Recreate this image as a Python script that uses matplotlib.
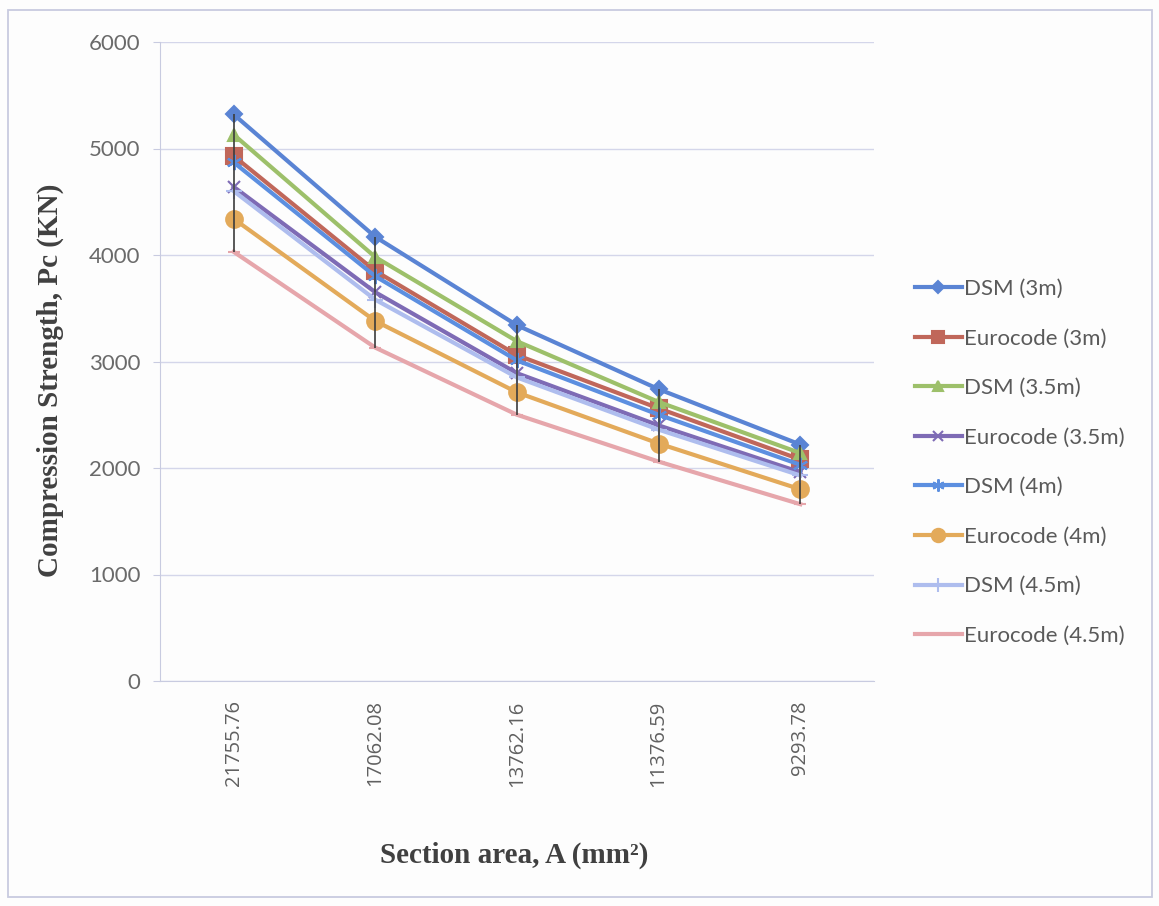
import matplotlib
matplotlib.use("Agg")
import matplotlib.pyplot as plt
from matplotlib.patches import Rectangle

categories = ["21755.76", "17062.08", "13762.16", "11376.59", "9293.78"]
series_names = ["DSM (3m)", "Eurocode (3m)", "DSM (3.5m)", "Eurocode (3.5m)",
                "DSM (4m)", "Eurocode (4m)", "DSM (4.5m)", "Eurocode (4.5m)"]
dsm_3 = [5320, 4170, 3340, 2740, 2220]
euro_3 = [4930, 3850, 3060, 2560, 2080]
dsm_35 = [5130, 3980, 3190, 2620, 2140]
euro_35 = [4640, 3650, 2890, 2400, 1960]
dsm_4 = [4870, 3800, 3010, 2500, 2030]
euro_4 = [4340, 3380, 2710, 2230, 1800]
dsm_45 = [4600, 3580, 2850, 2360, 1930]
euro_45 = [4030, 3130, 2500, 2060, 1660]
all_series = [dsm_3, euro_3, dsm_35, euro_35, dsm_4, euro_4, dsm_45, euro_45]

colors = ["#5a84d4", "#c0675a", "#9dc06a", "#7e6bb5",
          "#5c8fe0", "#e3aa5a", "#aebdee", "#e6a6ab"]
markers = ["D", "s", "^", "x", (6, 2, 0), "o", "+", "_"]
msizes = [8, 11, 9, 9, 11, 12, 12, 8]

fig = plt.figure(figsize=(11.59, 9.06), dpi=100)
fig.patch.set_facecolor("#fdfdfd")
fig.patches.append(Rectangle((8 / 1159, 1 - 897 / 906), 1144 / 1159, 887 / 906,
                             transform=fig.transFigure, fill=False,
                             edgecolor="#c8cbe0", linewidth=1.3))

ax = fig.add_axes([160 / 1159, 1 - 681 / 906, 714 / 1159, 639 / 906])
ax.set_facecolor("none")
x = list(range(len(categories)))

# high-low lines
for i in x:
    vals = [s[i] for s in all_series]
    ax.vlines(i, min(vals), max(vals), colors="#3c3c3c", linewidth=1.2, zorder=4)

for s, name, c, m, ms in zip(all_series, series_names, colors, markers, msizes):
    ax.plot(x, s, color=c, linewidth=3.0, marker=m, markersize=ms,
            markerfacecolor=c, markeredgecolor=c, markeredgewidth=1.5,
            label=name, zorder=3)

ax.set_xlim(-0.52, len(categories) - 0.48)
ax.set_ylim(0, 6000)
ax.set_yticks([0, 1000, 2000, 3000, 4000, 5000, 6000])
ax.set_xticks(x)
ax.set_xticklabels(categories, rotation=90, fontfamily="Open Sans",
                   fontsize=14.5, color="#606060")
for lbl in ax.get_yticklabels():
    lbl.set_fontfamily("Lato")
    lbl.set_fontsize(16)
    lbl.set_color("#6a6a6a")
ax.tick_params(axis="y", length=5, color="#c8cbe0", pad=9)
ax.tick_params(axis="x", length=0, pad=14)
ax.grid(axis="y", color="#d4d6ea", linewidth=1.0)
ax.set_axisbelow(True)
for side in ["top", "right"]:
    ax.spines[side].set_visible(False)
ax.spines["left"].set_color("#c8cbe0")
ax.spines["bottom"].set_color("#c8cbe0")

fig.text(514 / 1159, 1 - 855 / 906, "Section area, A (mm\u00b2)",
         fontfamily="Liberation Serif", fontweight="bold", fontsize=21,
         color="#404040", ha="center", va="center")
fig.text(50 / 1159, 1 - 380 / 906, "Compression Strength, Pc (KN)",
         fontfamily="Liberation Serif", fontweight="bold", fontsize=21,
         color="#404040", ha="center", va="center", rotation=90)

leg = fig.legend(loc="upper left", bbox_to_anchor=(895 / 1159, 1 - 259 / 906),
                 frameon=False, prop={"family": "Lato", "size": 16},
                 labelspacing=1.33, handlelength=2.1, handletextpad=0.12,
                 markerscale=0.8, labelcolor="#5a5a5a")

fig.savefig("out.png", dpi=100, facecolor=fig.get_facecolor())
